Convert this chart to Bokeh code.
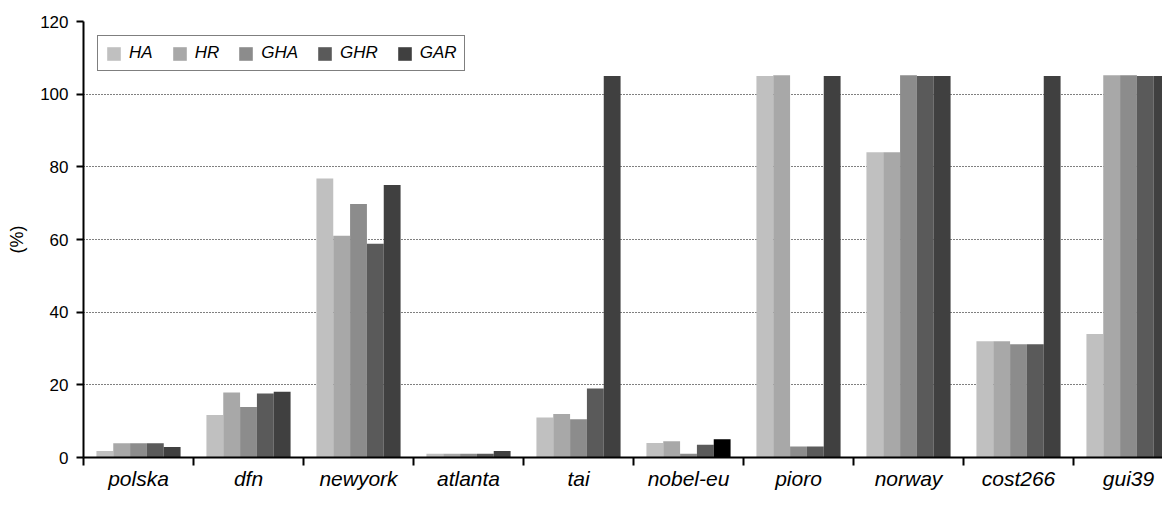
from bokeh.plotting import figure
from bokeh.models import Range1d, FixedTicker, Legend, LegendItem, ColumnDataSource
from bokeh.embed import file_html
from bokeh.resources import INLINE

categories = ["polska", "dfn", "newyork", "atlanta", "tai", "nobel-eu", "pioro", "norway", "cost266", "gui39"]
series_names = ["HA", "HR", "GHA", "GHR", "GAR"]
HA = [1.8, 11.7, 76.8, 1.0, 11.0, 4.0, 105.0, 84.0, 32.0, 34.0]
HR = [3.9, 17.9, 61.0, 1.0, 12.0, 4.5, 105.2, 84.0, 32.0, 105.2]
GHA = [3.9, 13.9, 69.8, 1.0, 10.5, 1.0, 3.0, 105.2, 31.2, 105.2]
GHR = [3.9, 17.6, 58.8, 1.0, 19.0, 3.5, 3.0, 105.0, 31.2, 105.0]
GAR = [2.9, 18.1, 75.0, 1.8, 105.0, 5.0, 105.0, 105.0, 105.0, 105.0]
series_values = [HA, HR, GHA, GHR, GAR]
series_colors = ["#c0c0c0", "#a8a8a8", "#8c8c8c", "#5a5a5a", "#404040"]
highlight_color = "#000000"
highlight_category = "nobel-eu"
y_ticks = [0, 20, 40, 60, 80, 100, 120]

FONT = "Liberation Sans"

W, H = 1162, 492
LEFT, TOP, BOTTOM = 83, 21, 34
x_end = (W - LEFT) / 110.0

p = figure(width=W, height=H, output_backend="svg", toolbar_location=None,
           x_range=Range1d(0, x_end), y_range=Range1d(0, 120),
           min_border_left=LEFT, min_border_top=TOP, min_border_right=0,
           min_border_bottom=BOTTOM)
p.outline_line_color = None
p.background_fill_color = "white"

bar_w = 0.153
items = []
for i, (name, vals, col) in enumerate(zip(series_names, series_values, series_colors)):
    xs = [k + 0.5 + (i - 2) * bar_w for k in range(len(categories))]
    colors = [col] * len(categories)
    if name == "GAR":
        colors[categories.index(highlight_category)] = highlight_color
    src = ColumnDataSource(dict(x=xs, top=vals, color=colors))
    r = p.vbar(x="x", top="top", width=bar_w, bottom=0, source=src,
               fill_color="color", line_color=None)
    items.append(LegendItem(label=name, renderers=[r], index=0))

legend = Legend(items=items, orientation="horizontal", location="top_left",
                margin=14, padding=7, spacing=18, glyph_width=17, glyph_height=17,
                label_standoff=7, label_height=17,
                label_text_font=FONT, label_text_font_size="17px",
                label_text_font_style="italic", label_text_color="black",
                border_line_color="black", border_line_width=1,
                background_fill_color="white", background_fill_alpha=1)
p.add_layout(legend, "center")

# y axis
p.yaxis.ticker = FixedTicker(ticks=y_ticks)
p.yaxis.axis_line_width = 2
p.yaxis.major_tick_line_width = 2
p.yaxis.major_tick_out = 7
p.yaxis.major_tick_in = 0
p.yaxis.minor_tick_line_color = None
p.yaxis.major_label_text_font = FONT
p.yaxis.major_label_text_font_size = "17px"
p.yaxis.major_label_text_color = "black"
p.yaxis.major_label_standoff = 8
p.yaxis.axis_label = "(%)"
p.yaxis.axis_label_text_font = FONT
p.yaxis.axis_label_text_font_size = "18px"
p.yaxis.axis_label_text_font_style = "normal"
p.yaxis.axis_label_text_color = "black"
p.yaxis.axis_label_standoff = 10

# x axis
centers = [k + 0.5 for k in range(len(categories))]
p.xaxis.ticker = FixedTicker(ticks=centers, minor_ticks=list(range(len(categories) + 1)))
p.xaxis.major_label_overrides = {c: n for c, n in zip(centers, categories)}
p.xaxis.axis_line_width = 2
p.xaxis.major_tick_line_color = None
p.xaxis.major_tick_out = 0
p.xaxis.major_tick_in = 0
p.xaxis.minor_tick_line_width = 2
p.xaxis.minor_tick_out = 8
p.xaxis.minor_tick_in = 0
p.xaxis.major_label_text_font = FONT
p.xaxis.major_label_text_font_size = "21px"
p.xaxis.major_label_text_font_style = "italic"
p.xaxis.major_label_text_color = "black"
p.xaxis.major_label_standoff = 1

# grids
p.xgrid.grid_line_color = None
p.ygrid.ticker = FixedTicker(ticks=y_ticks[1:])
p.ygrid.grid_line_color = "black"
p.ygrid.grid_line_dash = "1 2"
p.ygrid.grid_line_width = 1

open("out.html", "w").write(file_html(p, INLINE))
